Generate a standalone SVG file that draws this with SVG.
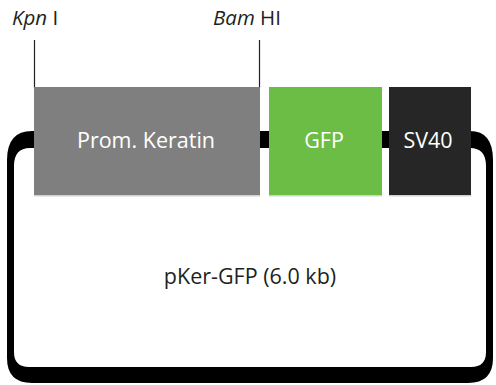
<svg xmlns="http://www.w3.org/2000/svg" width="496" height="385" viewBox="0 0 496 385">
  <style>
    .lbl { font-family: "Open Sans", "Noto Sans", sans-serif; }
    .site { font-size: 20.5px; fill: #231f20; }
    .box-text { font-size: 21.5px; fill: #ffffff; text-anchor: middle; }
    .title { font-size: 21.5px; fill: #231f20; text-anchor: middle; }
    .cut { stroke: #231f20; stroke-width: 1.2; fill: none; }
    .shadow { fill: #000; opacity: 0.18; }
  </style>

  <!-- plasmid backbone -->
  <g id="backbone">
    <path fill="#000" fill-rule="evenodd" d="M32,131 H470 Q493,131 493,160 V358 Q493,383 468,383 H32 Q7,383 7,358 V160 Q7,131 32,131 Z
             M30,148 Q14,148 14,166 V352 Q14,367 29,367 H471 Q486,367 486,352 V166 Q486,148 470,148 Z"/>
  </g>

  <!-- restriction sites -->
  <g id="site-kpn">
    <line class="cut" x1="34.5" y1="40" x2="34.5" y2="88"/>
    <text class="lbl site" x="12" y="25"><tspan font-style="italic">Kpn</tspan> I</text>
  </g>
  <g id="site-bam">
    <line class="cut" x1="259.5" y1="40" x2="259.5" y2="88"/>
    <text class="lbl site" x="213" y="25"><tspan font-style="italic">Bam</tspan> HI</text>
  </g>

  <!-- elements -->
  <g id="promoter">
    <rect class="shadow" x="34" y="88" width="226" height="108.5"/>
    <rect x="34" y="87" width="226" height="108" fill="#7f7f7f"/>
    <text class="lbl box-text" x="146" y="148">Prom. Keratin</text>
  </g>
  <g id="gfp">
    <rect class="shadow" x="269" y="88" width="113" height="108.5"/>
    <rect x="269" y="87" width="113" height="108" fill="#6cbd45"/>
    <text class="lbl box-text" x="324" y="148">GFP</text>
  </g>
  <g id="sv40">
    <rect class="shadow" x="389" y="88" width="82" height="108.5"/>
    <rect x="389" y="87" width="82" height="108" fill="#262626"/>
    <text class="lbl box-text" x="428" y="148">SV40</text>
  </g>

  <text class="lbl title" x="250" y="284">pKer-GFP (6.0 kb)</text>
</svg>
